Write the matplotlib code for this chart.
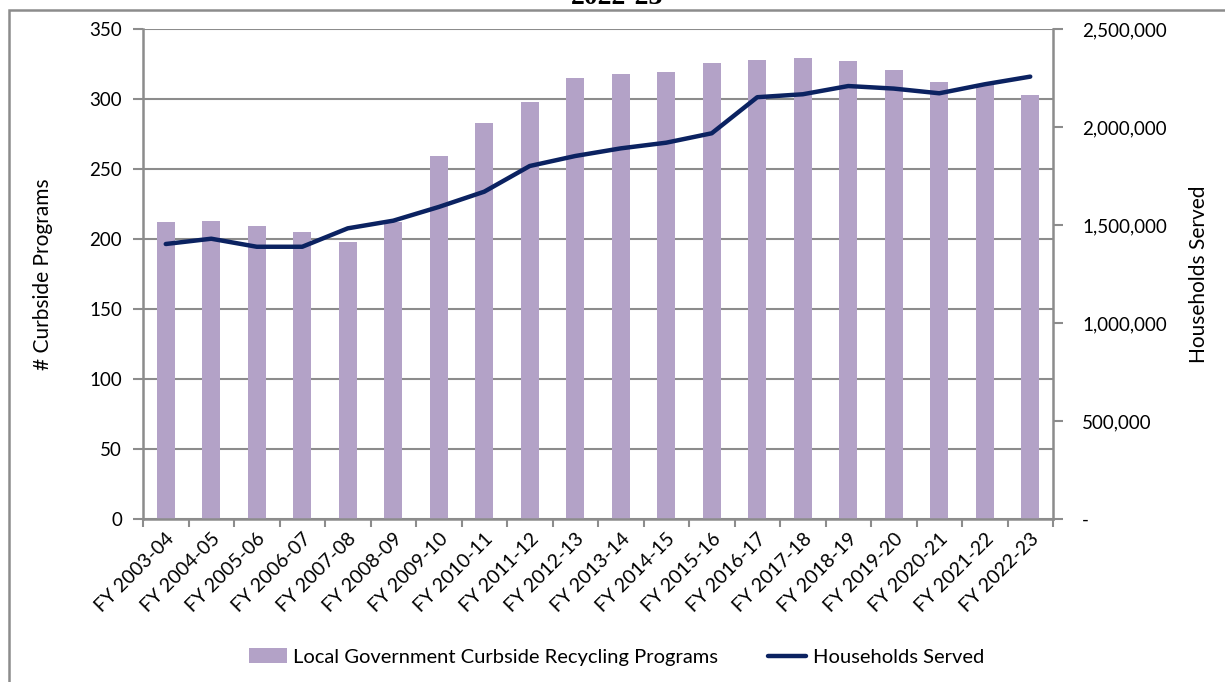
import matplotlib
matplotlib.use("Agg")
import matplotlib.pyplot as plt
from matplotlib.patches import Rectangle
from matplotlib.ticker import FuncFormatter
import numpy as np

years = ["FY 2003-04", "FY 2004-05", "FY 2005-06", "FY 2006-07", "FY 2007-08",
         "FY 2008-09", "FY 2009-10", "FY 2010-11", "FY 2011-12", "FY 2012-13",
         "FY 2013-14", "FY 2014-15", "FY 2015-16", "FY 2016-17", "FY 2017-18",
         "FY 2018-19", "FY 2019-20", "FY 2020-21", "FY 2021-22", "FY 2022-23"]
programs = [212, 213, 209, 205, 198, 212, 259, 283, 298, 315,
            318, 319, 326, 328, 329, 327, 321, 312, 310, 303]
households = [1403000, 1430000, 1389000, 1389000, 1483000, 1522000, 1592000,
              1670000, 1801000, 1852000, 1891000, 1920000, 1968000, 2152000,
              2167000, 2209000, 2196000, 2172000, 2218000, 2257000]

plt.rcParams["font.family"] = ["Lato", "DejaVu Sans"]
grey = "#8c8c8c"
bar_c = "#b3a2c7"
line_c = "#0b2261"

fig = plt.figure(figsize=(12.25, 6.82), dpi=100)
# outer chart frame (right/bottom edges run off the image)
fig.patches.append(Rectangle((9 / 1225, -0.1), 1.2, 1 - 10 / 682 + 0.1,
                             transform=fig.transFigure, fill=False,
                             edgecolor=grey, linewidth=1.8))
# title sits above the frame and is cut by the top edge, as in the source
fig.text(0.504, 1 - 4 / 682, "2022-23", ha="center", va="baseline",
         fontsize=20, fontweight="bold", family="Liberation Serif")

ax = fig.add_axes([143 / 1225, 1 - 519 / 682, 910 / 1225, 490 / 682])
x = np.arange(len(years))
ax.bar(x, programs, width=0.4, color=bar_c, zorder=2,
       label="Local Government Curbside Recycling Programs")
ax.set_xlim(-0.5, len(years) - 0.5)
ax.set_ylim(0, 350)
ax.set_yticks(range(0, 351, 50))
ax.grid(axis="y", color=grey, linewidth=1.5, zorder=0)
ax.set_axisbelow(True)
ax.set_xticks(np.arange(-0.5, len(years), 1))
ax.set_xticklabels([])
ax.set_xticks(x, minor=True)
ax.set_xticklabels(years, minor=True, rotation=45, ha="right",
                   rotation_mode="anchor", fontsize=14)
ax.tick_params(axis="x", which="major", length=6, width=1.5, color=grey)
ax.tick_params(axis="x", which="minor", length=0, pad=8)
ax.tick_params(axis="y", length=7, width=1.5, color=grey, labelsize=13.5, pad=8)
ax.set_ylabel("# Curbside Programs", fontsize=15, labelpad=26)
for s in ["top", "right"]:
    ax.spines[s].set_visible(False)
for s in ["left", "bottom"]:
    ax.spines[s].set_color(grey)
    ax.spines[s].set_linewidth(1.8)

ax2 = ax.twinx()
ax2.plot(x, households, color=line_c, linewidth=3.2, zorder=3,
         label="Households Served", solid_capstyle="round")
ax2.set_ylim(0, 2500000)
ax2.set_yticks(range(0, 2500001, 500000))
ax2.yaxis.set_major_formatter(FuncFormatter(lambda v, p: "-" if v == 0 else f"{int(v):,}"))
ax2.tick_params(axis="y", length=7, width=1.5, color=grey, labelsize=13.5, pad=14)
ax2.set_ylabel("Households Served", fontsize=15, labelpad=16)
for s in ["top", "left", "bottom"]:
    ax2.spines[s].set_visible(False)
ax2.spines["right"].set_color(grey)
ax2.spines["right"].set_linewidth(1.8)

h1, l1 = ax.get_legend_handles_labels()
h2, l2 = ax2.get_legend_handles_labels()
fig.legend(h1 + h2, l1 + l2, loc="center", bbox_to_anchor=(0.503, 1 - 657 / 682),
           ncol=2, frameon=False, fontsize=14.5, columnspacing=2.5,
           handlelength=1.9, handletextpad=0.3)

fig.savefig("out.png", dpi=100)
